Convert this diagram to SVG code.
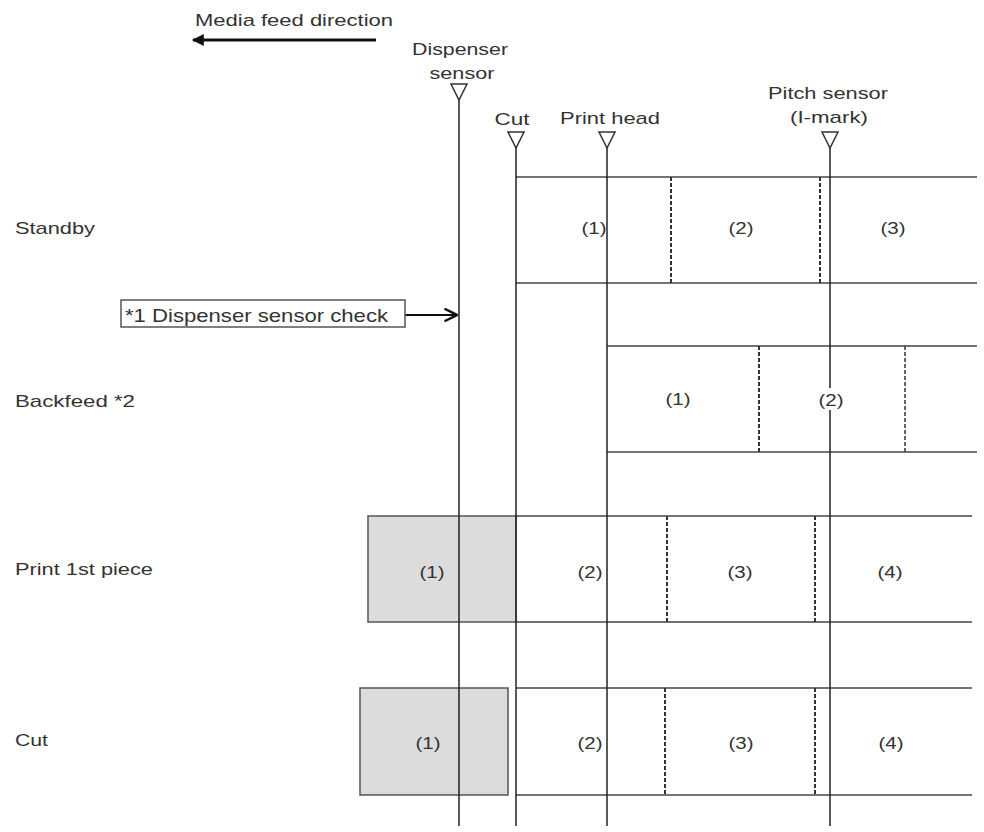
<svg xmlns="http://www.w3.org/2000/svg" width="984" height="832" viewBox="0 0 984 832">
<defs>
<style>
text{font-family:"Liberation Sans",Arial,sans-serif;font-size:17px;fill:#333}
.c{text-anchor:middle}
.n{font-size:16px}
.ln{stroke:#444;stroke-width:1.5;fill:none}
.v{stroke:#222;stroke-width:1.5;fill:none}
.d{stroke:#333;stroke-width:2;stroke-dasharray:4 2;fill:none}
.tri{fill:#fff;stroke:#333;stroke-width:1.5}
.gray{fill:#dcdcdc;stroke:#555;stroke-width:1.5}
</style>
<marker id="ah" viewBox="0 0 10 10" refX="9" refY="5" markerWidth="15" markerHeight="12" orient="auto" markerUnits="userSpaceOnUse">
<path d="M0,0 L10,5 L0,10 z" fill="#111"/>
</marker>
<marker id="oa" viewBox="0 0 12 12" refX="11" refY="6" markerWidth="15" markerHeight="15" orient="auto" markerUnits="userSpaceOnUse">
<path d="M1,1 L11,6 L1,11" fill="none" stroke="#111" stroke-width="2"/>
</marker>
</defs>
<rect width="984" height="832" fill="#fff"/>

<g id="feed-direction">
<text x="195" y="26" textLength="198" lengthAdjust="spacingAndGlyphs">Media feed direction</text>
<line x1="376" y1="40" x2="193" y2="40" stroke="#111" stroke-width="3" marker-end="url(#ah)"/>
</g>

<g id="rows">
<g id="standby">
<text x="15" y="234" textLength="80" lengthAdjust="spacingAndGlyphs">Standby</text>
<line class="ln" x1="516" y1="177" x2="977" y2="177"/>
<line class="ln" x1="516" y1="283" x2="977" y2="283"/>
<line class="d" x1="671" y1="177" x2="671" y2="283"/>
<line class="d" x1="820" y1="177" x2="820" y2="283"/>
</g>
<g id="backfeed">
<text x="15" y="407" textLength="120" lengthAdjust="spacingAndGlyphs">Backfeed  *2</text>
<line class="ln" x1="607" y1="346" x2="977" y2="346"/>
<line class="ln" x1="607" y1="452" x2="977" y2="452"/>
<line class="d" x1="759" y1="346" x2="759" y2="452"/>
<line class="d" x1="905" y1="346" x2="905" y2="452" style="stroke-width:1.5"/>
</g>
<g id="print1">
<text x="15" y="575" textLength="138" lengthAdjust="spacingAndGlyphs">Print 1st piece</text>
<rect class="gray" x="368" y="516" width="148" height="106"/>
<line class="ln" x1="516" y1="516" x2="972" y2="516"/>
<line class="ln" x1="516" y1="622" x2="972" y2="622"/>
<line class="d" x1="667" y1="516" x2="667" y2="622"/>
<line class="d" x1="815" y1="516" x2="815" y2="622"/>
</g>
<g id="cutrow">
<text x="15" y="746" textLength="33" lengthAdjust="spacingAndGlyphs">Cut</text>
<rect class="gray" x="360" y="688" width="148" height="107"/>
<line class="ln" x1="516" y1="688" x2="972" y2="688"/>
<line class="ln" x1="516" y1="795" x2="972" y2="795"/>
<line class="d" x1="665" y1="688" x2="665" y2="795"/>
<line class="d" x1="815" y1="688" x2="815" y2="795"/>
</g>
</g>

<g id="connectors">
<line class="v" x1="459" y1="100" x2="459" y2="826"/>
<line class="v" x1="516" y1="148" x2="516" y2="826"/>
<line class="v" x1="607" y1="148" x2="607" y2="826"/>
<line class="v" x1="830" y1="148" x2="830" y2="826"/>
<line x1="405" y1="315" x2="457" y2="315" stroke="#111" stroke-width="2" marker-end="url(#oa)"/>
</g>

<g id="sensor-dispenser">
<text class="c" x="460" y="55" textLength="96" lengthAdjust="spacingAndGlyphs">Dispenser</text>
<text class="c" x="462" y="79" textLength="65" lengthAdjust="spacingAndGlyphs">sensor</text>
<path class="tri" d="M451,84 L467,84 L459,100 z"/>
</g>
<g id="sensor-cut">
<text class="c" x="512" y="125" textLength="35" lengthAdjust="spacingAndGlyphs">Cut</text>
<path class="tri" d="M508,132 L524,132 L516,148 z"/>
</g>
<g id="sensor-printhead">
<text class="c" x="610" y="124" textLength="100" lengthAdjust="spacingAndGlyphs">Print head</text>
<path class="tri" d="M599,132 L615,132 L607,148 z"/>
</g>
<g id="sensor-pitch">
<text class="c" x="828" y="99" textLength="120" lengthAdjust="spacingAndGlyphs">Pitch sensor</text>
<text class="c" x="829" y="123" textLength="78" lengthAdjust="spacingAndGlyphs">(I-mark)</text>
<path class="tri" d="M822,132 L838,132 L830,148 z"/>
</g>

<g id="check-box">
<rect x="121" y="300" width="284" height="27" fill="#fff" stroke="#555" stroke-width="1.5"/>
<text x="125" y="322" style="font-size:19px" textLength="263" lengthAdjust="spacingAndGlyphs">*1 Dispenser sensor check</text>
</g>

<g id="labels">
<text class="c n" x="594" y="234" textLength="25" lengthAdjust="spacingAndGlyphs">(1)</text>
<text class="c n" x="741" y="234" textLength="25" lengthAdjust="spacingAndGlyphs">(2)</text>
<text class="c n" x="893" y="234" textLength="25" lengthAdjust="spacingAndGlyphs">(3)</text>
<text class="c n" x="678" y="405" textLength="25" lengthAdjust="spacingAndGlyphs">(1)</text>
<rect x="818" y="388" width="26" height="22" fill="#fff"/>
<text class="c n" x="831" y="406" textLength="25" lengthAdjust="spacingAndGlyphs">(2)</text>
<text class="c n" x="432" y="578" textLength="25" lengthAdjust="spacingAndGlyphs">(1)</text>
<text class="c n" x="590" y="578" textLength="25" lengthAdjust="spacingAndGlyphs">(2)</text>
<text class="c n" x="740" y="578" textLength="25" lengthAdjust="spacingAndGlyphs">(3)</text>
<text class="c n" x="890" y="578" textLength="25" lengthAdjust="spacingAndGlyphs">(4)</text>
<text class="c n" x="428" y="749" textLength="25" lengthAdjust="spacingAndGlyphs">(1)</text>
<text class="c n" x="590" y="749" textLength="25" lengthAdjust="spacingAndGlyphs">(2)</text>
<text class="c n" x="741" y="749" textLength="25" lengthAdjust="spacingAndGlyphs">(3)</text>
<text class="c n" x="891" y="749" textLength="25" lengthAdjust="spacingAndGlyphs">(4)</text>
</g>
</svg>
